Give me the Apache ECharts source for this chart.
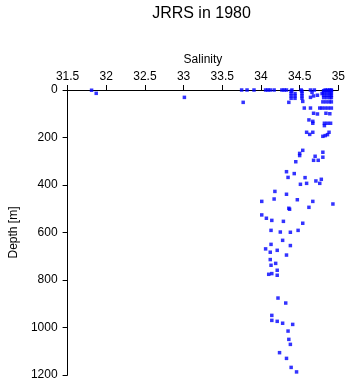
<!DOCTYPE html>
<html>
<head>
<meta charset="utf-8">
<style>
  html, body { margin: 0; padding: 0; background: #fff; }
  #chart { width: 348px; height: 384px; }
</style>
<script src="https://cdn.jsdelivr.net/npm/echarts@6/dist/echarts.min.js"></script>
</head>
<body>
<div id="chart"></div>
<script>
// Salinity / depth profile, JRRS 1980 cruise
const titleText = 'JRRS in 1980';
const xName = 'Salinity';
const yName = 'Depth [m]';
const salinityTicks = [31.5, 32, 32.5, 33, 33.5, 34, 34.5, 35];
const depthTicks = [0, 200, 400, 600, 800, 1000, 1200];

// Surface and near-surface samples (0-200 m)
const salinityShallow = [
  31.81, 31.87, 33.01, 33.75, 33.82, 33.91, 33.77, 34.06, 34.09, 34.12, 34.17,
  34.27, 34.30, 34.33, 34.40, 34.52, 34.64, 34.69, 34.83, 34.86, 34.89, 34.91,
  34.39, 34.39, 34.39, 34.39, 34.44, 34.44, 34.44, 34.53, 34.53, 34.53, 34.53,
  34.36, 34.54, 34.66, 34.68, 34.73, 34.79, 34.64,
  34.81, 34.85, 34.89, 34.91, 34.81, 34.85, 34.89, 34.91,
  34.81, 34.85, 34.89, 34.91, 34.81, 34.85, 34.89, 34.91,
  34.80, 34.84, 34.88, 34.91,
  34.56, 34.64, 34.76, 34.79, 34.83, 34.87, 34.91,
  34.68, 34.73, 34.84, 34.89, 34.62, 34.67, 34.67,
  34.82, 34.86, 34.90, 34.82,
  34.59, 34.63, 34.67, 34.80, 34.83, 34.86, 34.88
];
const depthShallow = [
  1, 14, 31, 0, 0, 0, 52, 0, 0, 0, 0,
  0, 0, 0, 0, 0, 0, 0, 0, 0, 0, 0,
  5, 15, 25, 35, 15, 25, 35, 5, 15, 25, 35,
  52, 48, 10, 25, 22, 15, 31,
  3, 3, 3, 3, 12, 12, 12, 12,
  22, 22, 22, 22, 32, 32, 32, 32,
  50, 50, 50, 50,
  76, 76, 76, 76, 76, 76, 76,
  98, 101, 98, 100, 126, 132, 140,
  140, 140, 140, 150,
  178, 187, 178, 195, 192, 188, 178
];

// Deeper samples (below 200 m)
const salinityDeep = [
  34.54, 34.50, 34.50, 34.80, 34.70, 34.68, 34.74, 34.80, 34.45,
  34.33, 34.43, 34.35, 34.57, 34.51, 34.59, 34.71, 34.78, 34.76,
  34.18, 34.33, 34.01, 34.17, 34.47, 34.67, 34.93, 34.62, 34.36, 34.37,
  34.01, 34.07, 34.14, 34.29, 34.54,
  34.13, 34.25, 34.38, 34.48,
  34.28, 34.13, 34.38, 34.06, 34.21, 34.12, 34.33,
  34.12, 34.19, 34.13, 34.21, 34.14, 34.10, 34.21,
  34.22, 34.32, 34.14, 34.14, 34.21, 34.28, 34.41,
  34.35, 34.36, 34.38, 34.24, 34.33, 34.39, 34.46
];
const depthDeep = [
  254, 267, 276, 262, 279, 296, 296, 283, 302,
  344, 352, 368, 369, 397, 393, 383, 376, 393,
  427, 439, 469, 459, 462, 469, 480, 494, 498, 502,
  526, 540, 549, 553, 561,
  591, 598, 599, 591,
  633, 650, 655, 669, 675, 683, 695,
  714, 730, 738, 759, 773, 776, 780,
  876, 897, 949, 970, 974, 982, 987,
  1015, 1050, 1071, 1106, 1130, 1168, 1187
];

const salinity = salinityShallow.concat(salinityDeep);
const depth = depthShallow.concat(depthDeep);
const points = salinity.map((s, i) => [s, depth[i]]);

const font = 'Liberation Sans, Arial, Helvetica, sans-serif';
const chart = echarts.init(document.getElementById('chart'), null, { renderer: 'canvas' });

chart.setOption({
  animation: false,
  backgroundColor: '#ffffff',
  title: {
    text: titleText,
    left: 196.5,
    textAlign: 'center',
    top: 1,
    textStyle: { fontFamily: font, fontSize: 16, fontWeight: 'normal', color: '#000' }
  },
  grid: { left: 54, right: 9, top: 90, bottom: 9, containLabel: false },
  xAxis: {
    type: 'value',
    position: 'top',
    min: salinityTicks[0],
    max: salinityTicks[salinityTicks.length - 1],
    interval: 0.5,
    name: xName,
    nameLocation: 'middle',
    nameGap: 24,
    nameTextStyle: { fontFamily: font, fontSize: 12, color: '#000' },
    axisLine: { onZero: false, lineStyle: { color: '#000', width: 1 } },
    axisTick: { show: true, inside: false, length: 5, lineStyle: { color: '#000' } },
    axisLabel: { fontFamily: font, fontSize: 12, color: '#000', margin: 7,
      formatter: v => String(v) },
    splitLine: { show: false }
  },
  yAxis: {
    type: 'value',
    inverse: true,
    min: depthTicks[0],
    max: depthTicks[depthTicks.length - 1],
    interval: 200,
    name: yName,
    nameLocation: 'middle',
    nameGap: 46,
    nameTextStyle: { fontFamily: font, fontSize: 12, color: '#000' },
    axisLine: { show: true, onZero: false, lineStyle: { color: '#000', width: 1 } },
    axisTick: { show: true, inside: false, length: 5, lineStyle: { color: '#000' } },
    axisLabel: { fontFamily: font, fontSize: 12, color: '#000', margin: 10,
      formatter: v => String(v) },
    splitLine: { show: false }
  },
  series: [{
    type: 'scatter',
    data: points,
    symbol: 'rect',
    symbolSize: [3.5, 3.5],
    itemStyle: { color: '#0000ff' },
    clip: false
  }]
});
</script>
</body>
</html>
